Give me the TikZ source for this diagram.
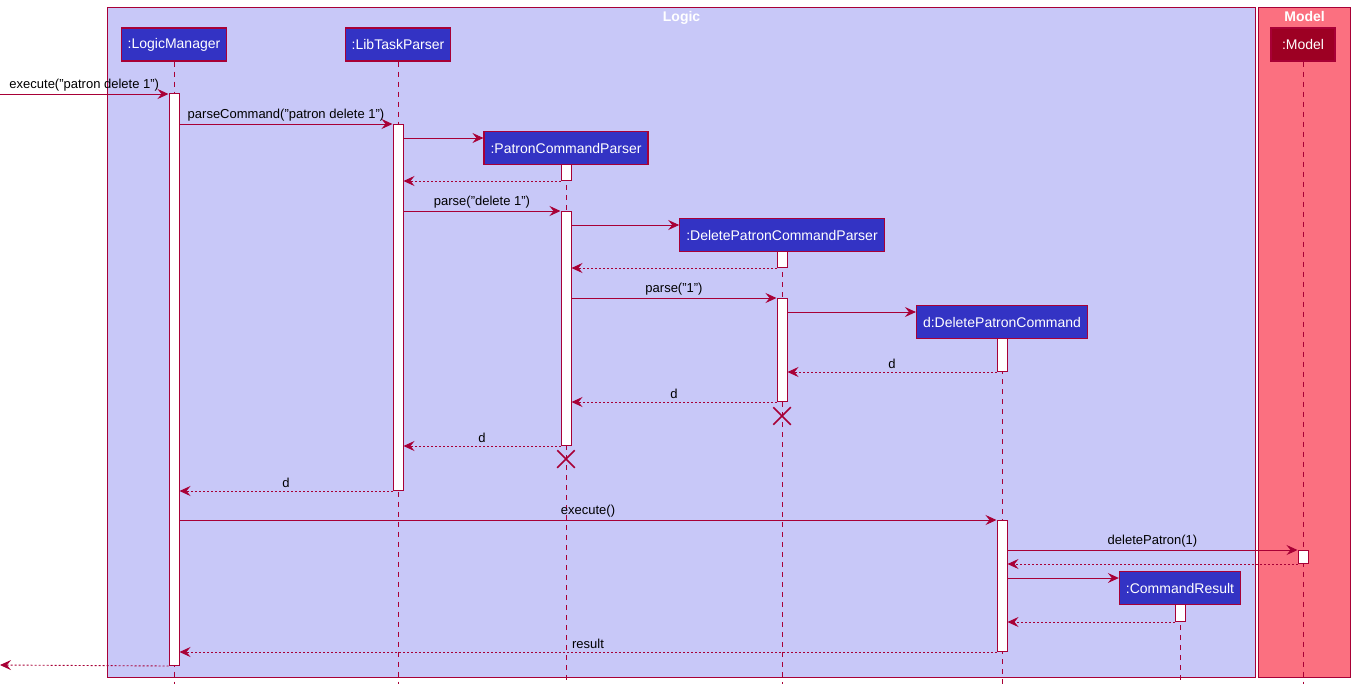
\documentclass[tikz,border=0pt]{standalone}
\usepackage{fontspec}
\setmainfont{Liberation Sans}
\usepackage{tikz}
\usetikzlibrary{arrows.meta,positioning,shapes.misc}
\definecolor{umlred}{HTML}{A80036}
\definecolor{logicbg}{HTML}{C8C8F8}
\definecolor{modelbg}{HTML}{FB7080}
\definecolor{partblue}{HTML}{3333C4}
\definecolor{partred}{HTML}{9D0023}

\begin{document}
\begin{tikzpicture}[
  x=1pt,y=-1pt,
  font=\fontsize{13}{15}\selectfont,
  grp/.style={draw=umlred,line width=1.2pt,anchor=north west,inner sep=0pt},
  grptitle/.style={text=white,font=\fontsize{14}{16}\selectfont\bfseries,anchor=north,inner sep=0pt,yshift=-4.5pt},
  part/.style={draw=umlred,line width=1.2pt,fill=partblue,text=white,font=\fontsize{14}{16}\selectfont,minimum height=33pt,inner xsep=6.5pt,inner ysep=0pt},
  act/.style={draw=umlred,line width=1pt,fill=white,minimum width=10pt,inner sep=0pt,anchor=north},
  life/.style={draw=umlred,line width=0.9pt,dash pattern=on 5pt off 5pt},
  msg/.style={draw=umlred,line width=0.9pt,-{Stealth[length=11pt,width=10pt,inset=4pt]}},
  ret/.style={msg,dash pattern=on 2pt off 2pt},
  lbl/.style={above=1.5pt,text=black,inner sep=1pt},
  kill/.style={cross out,draw=umlred,line width=1.5pt,minimum size=16pt,inner sep=0pt}
]
  \useasboundingbox (0,0) rectangle (1354,689);

  % boxes
  \node[grp,fill=logicbg,minimum width=1148pt,minimum height=670pt] (logic) at (107,7) {};
  \node[grp,fill=modelbg,minimum width=92pt,minimum height=670pt] (model) at (1258,7) {};
  \node[grptitle] at (logic.north) {Logic};
  \node[grptitle] at (model.north) {Model};

  % participants
  \node[part] (lm) at (174,44.5) {:LogicManager};
  \node[part] (ltp) at (398,44.5) {:LibTaskParser};
  \node[part] (pcp) at (566,148) {:PatronCommandParser};
  \node[part] (dpcp) at (782,235) {:DeletePatronCommandParser};
  \node[part] (dpc) at (1002,322) {d:DeletePatronCommand};
  \node[part] (cr) at (1180,588) {:CommandResult};
  \node[part,fill=partred,minimum width=64pt] (mdl) at (1303,44.5) {:Model};

  \foreach \p in {lm,ltp,pcp,dpcp,dpc,cr,mdl}
    \draw[life] (\p.south) -- (\p.south |- 0,684);

  % activations
  \node[act,minimum height=572pt] (lmA) at (174,93) {};
  \node[act,minimum height=366pt] (ltpA) at (398,124) {};
  \node[act,minimum height=16pt] (pcpA1) at (566,164) {};
  \node[act,minimum height=234pt] (pcpA2) at (566,211) {};
  \node[act,minimum height=16pt] (dpcpA1) at (782,251) {};
  \node[act,minimum height=103pt] (dpcpA2) at (782,298) {};
  \node[act,minimum height=33pt] (dpcA1) at (1002,338) {};
  \node[act,minimum height=131pt] (dpcA2) at (1002,520) {};
  \node[act,minimum height=17pt] (crA) at (1180,604) {};
  \node[act,minimum height=13pt] (mdlA) at (1303,550) {};

  \node[kill] (dpcpX) at (782,416) {};
  \node[kill] (pcpX) at (566,459) {};

  % messages
  \coordinate (start) at (0,94);
  \coordinate (finish) at (0,665);
  \draw[msg] (start) -- node[lbl] {execute("patron delete 1")} (lmA.west |- start);
  \draw[msg] (lmA.east |- 0,124) -- node[lbl] {parseCommand("patron delete 1")} (ltpA.west |- 0,124);
  \draw[msg] (ltpA.east |- 0,138) -- (pcp.west |- 0,138);
  \draw[ret] (pcpA1.south west) -- (ltpA.east |- pcpA1.south);
  \draw[msg] (ltpA.east |- pcpA2.north) -- node[lbl] {parse("delete 1")} (pcpA2.north west);
  \draw[msg] (pcpA2.east |- 0,225) -- (dpcp.west |- 0,225);
  \draw[ret] (dpcpA1.south west) -- (pcpA2.east |- dpcpA1.south);
  \draw[msg] (pcpA2.east |- dpcpA2.north) -- node[lbl] {parse("1")} (dpcpA2.north west);
  \draw[msg] (dpcpA2.east |- 0,312) -- (dpc.west |- 0,312);
  \draw[ret] (dpcA1.south west) -- node[lbl] {d} (dpcpA2.east |- dpcA1.south);
  \draw[ret] (dpcpA2.south west) -- node[lbl] {d} (pcpA2.east |- dpcpA2.south);
  \draw[ret] (pcpA2.south west) -- node[lbl] {d} (ltpA.east |- pcpA2.south);
  \draw[ret] (ltpA.south west) -- node[lbl] {d} (lmA.east |- ltpA.south);
  \draw[msg] (lmA.east |- dpcA2.north) -- node[lbl] {execute()} (dpcA2.north west);
  \draw[msg] (dpcA2.east |- mdlA.north) -- node[lbl] {deletePatron(1)} (mdlA.north west);
  \draw[ret] (mdlA.south west) -- (dpcA2.east |- mdlA.south);
  \draw[msg] (dpcA2.east |- 0,578) -- (cr.west |- 0,578);
  \draw[ret] (crA.south west) -- (dpcA2.east |- crA.south);
  \draw[ret] (dpcA2.south west) -- node[lbl] {result} (lmA.east |- dpcA2.south);
  \draw[ret] (lmA.south west) -- (finish);
\end{tikzpicture}
\end{document}
